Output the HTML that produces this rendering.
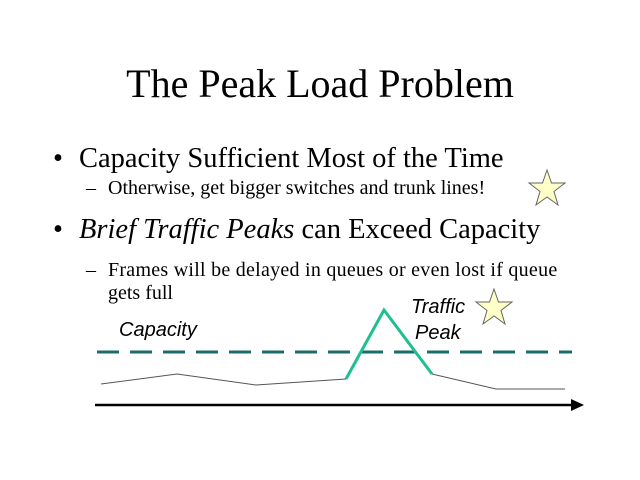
<!DOCTYPE html>
<html><head><style>
body{margin:0;background:#fff;width:640px;height:480px;overflow:hidden;position:relative;font-family:"Liberation Serif",serif;}
.t{position:absolute;white-space:nowrap;color:#000;}
</style></head><body>
<div class="t" style="left:0;width:640px;text-align:center;top:60px;font-size:40px;">The Peak Load Problem</div>
<div class="t" style="left:53px;top:143px;font-size:28.5px;">•</div>
<div class="t" style="left:79px;top:143px;font-size:28.5px;">Capacity Sufficient Most of the Time</div>
<div class="t" style="left:86px;top:177px;font-size:20px;">–</div>
<div class="t" style="left:108px;top:177px;font-size:20px;letter-spacing:0px;">Otherwise, get bigger switches and trunk lines!</div>
<div class="t" style="left:53px;top:214px;font-size:28.5px;">•</div>
<div class="t" style="left:79px;top:214px;font-size:28.5px;"><i>Brief Traffic Peaks</i> can Exceed Capacity</div>
<div class="t" style="left:86px;top:259px;font-size:20px;">–</div>
<div class="t" style="left:108px;top:259px;font-size:20px;letter-spacing:0.26px;">Frames will be delayed in queues or even lost if queue</div>
<div class="t" style="left:108px;top:282px;font-size:20px;">gets full</div>
<svg width="640" height="480" style="position:absolute;left:0;top:0">
<g font-family="Liberation Sans, sans-serif" font-style="italic" font-size="20">
<text x="119" y="336">Capacity</text>
<text x="411" y="313">Traffic</text>
<text x="415" y="339">Peak</text>
</g>
<line x1="97" y1="352" x2="572" y2="352" stroke="#1a6b6b" stroke-width="3" stroke-dasharray="22,11"/>
<polyline points="101,384 177,374 256,385 346,379" fill="none" stroke="#555" stroke-width="1"/>
<polyline points="346,379 384,310 432,374" fill="none" stroke="#1fc090" stroke-width="3"/>
<polyline points="432,374 496,389 565,389" fill="none" stroke="#555" stroke-width="1"/>
<line x1="95" y1="405" x2="572" y2="405" stroke="#000" stroke-width="2.5"/>
<polygon points="584,405 571,399 571,411" fill="#000"/>
<g fill="#ffffc8" stroke="#666" stroke-width="1">
<polygon transform="translate(547,189)" points="0,-19 4.5,-6 18,-6 7,2.5 11,16 0,8 -11,16 -7,2.5 -18,-6 -4.5,-6"/>
<polygon transform="translate(494,308)" points="0,-19 4.5,-6 18,-6 7,2.5 11,16 0,8 -11,16 -7,2.5 -18,-6 -4.5,-6"/>
</g>
</svg>
</body></html>
